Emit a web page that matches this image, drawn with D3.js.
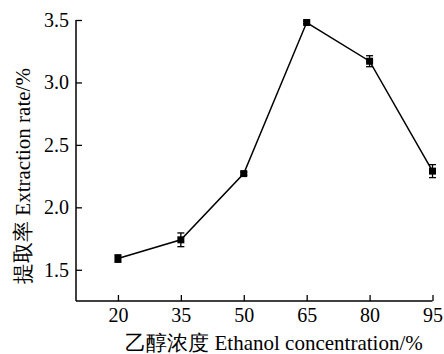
<!DOCTYPE html>
<html><head><meta charset="utf-8">
<script src="https://cdn.jsdelivr.net/npm/d3@7"></script>
<style>html,body{margin:0;padding:0;background:#fff;}</style>
</head>
<body>
<svg id="c" width="444" height="354"></svg>
<script>
const concentrations = [20, 35, 50, 65, 80, 95];
const extractionRate = [1.59, 1.74, 2.27, 3.48, 3.17, 2.29];
const errorValues = [0.03, 0.055, 0.012, 0.01, 0.044, 0.052];
const xTicks = [20, 35, 50, 65, 80, 95];
const yTicks = [1.5, 2.0, 2.5, 3.0, 3.5];
const xTitle = "乙醇浓度 Ethanol concentration/%";
const yTitle = "提取率 Extraction rate/%";

const FONT = "Liberation Serif";
const svg = d3.select("#c");
const x = d3.scaleLinear().domain([10, 95]).range([76, 432.5]);
const y = d3.scaleLinear().domain([1.25, 3.5]).range([301, 20]);

const xAxis = d3.axisBottom(x).tickValues(xTicks).tickSize(-6).tickPadding(7).tickFormat(d3.format("d"));
const gx = svg.append("g").attr("transform", "translate(0,301)").call(xAxis);
gx.select(".domain").attr("d", `M${x(10)},0H${x(95)}`);

const yAxis = d3.axisLeft(y).tickValues(yTicks).tickSize(-6).tickPadding(7).tickFormat(d3.format(".1f"));
const gy = svg.append("g").attr("transform", "translate(76,0)").call(yAxis);
gy.select(".domain").attr("d", `M0,${y(3.5)}V${y(1.25)}`);

svg.selectAll("g").attr("font-family", FONT);
svg.selectAll(".domain").attr("stroke", "#000").attr("stroke-width", 1.5);
svg.selectAll(".tick line").attr("stroke", "#000").attr("stroke-width", 1.3);
svg.selectAll(".tick text").attr("font-size", 20).attr("font-family", FONT).attr("fill", "#000");

const data = concentrations.map((c, i) => ({c, v: extractionRate[i], e: errorValues[i]}));

svg.append("path").datum(data)
  .attr("fill", "none").attr("stroke", "#000").attr("stroke-width", 1.5)
  .attr("d", d3.line().x(d => x(d.c)).y(d => y(d.v)));

const eb = svg.append("g").attr("stroke", "#000").attr("stroke-width", 1.3);
data.forEach(d => {
  const cx = x(d.c), y1 = y(d.v + d.e), y2 = y(d.v - d.e);
  eb.append("line").attr("x1", cx).attr("x2", cx).attr("y1", y1).attr("y2", y2);
  eb.append("line").attr("x1", cx - 3.5).attr("x2", cx + 3.5).attr("y1", y1).attr("y2", y1);
  eb.append("line").attr("x1", cx - 3.5).attr("x2", cx + 3.5).attr("y1", y2).attr("y2", y2);
});

svg.append("g").selectAll("rect").data(data).join("rect")
  .attr("x", d => x(d.c) - 3.5).attr("y", d => y(d.v) - 3.5)
  .attr("width", 7).attr("height", 7).attr("fill", "#000");

svg.append("text").attr("x", 274).attr("y", 350).attr("text-anchor", "middle")
  .attr("font-family", FONT).attr("font-size", 21).attr("fill", "#000").text(xTitle);
svg.append("text").attr("transform", "translate(30,176) rotate(-90)").attr("text-anchor", "middle")
  .attr("font-family", FONT).attr("font-size", 21).attr("fill", "#000").text(yTitle);
</script>
</body></html>
